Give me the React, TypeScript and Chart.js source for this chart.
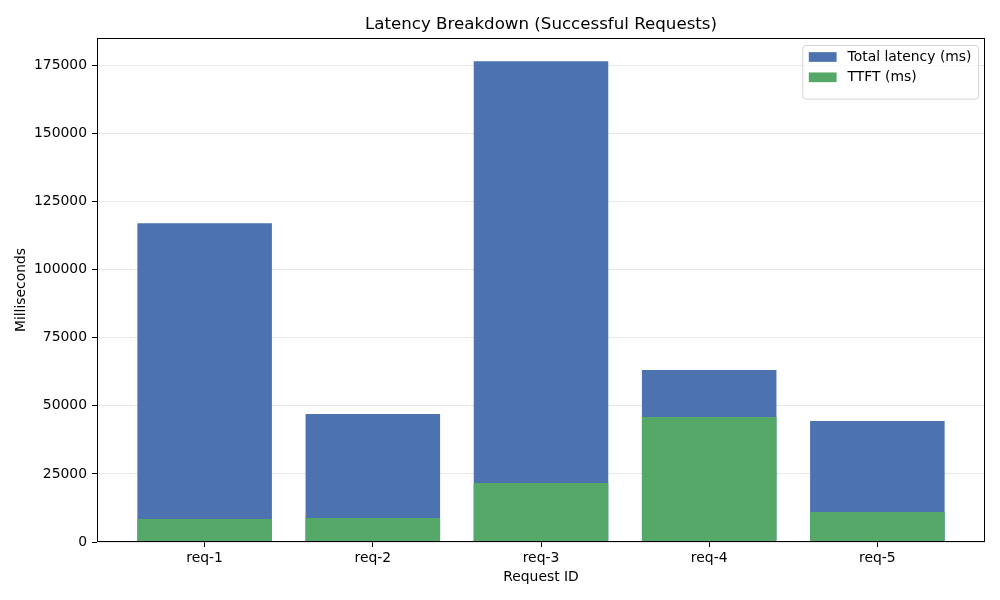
import React, { useEffect, useRef } from "react";
import { Chart, registerables } from "chart.js";

Chart.register(...registerables);

const CATEGORIES = ["req-1", "req-2", "req-3", "req-4", "req-5"];
const TOTAL_LATENCY = [117000, 47000, 176500, 63100, 44400];
const TTFT = [8450, 8800, 21650, 45850, 11000];
const Y_TICKS = [0, 25000, 50000, 75000, 100000, 125000, 150000, 175000];
const SERIES_LABELS = ["Total latency (ms)", "TTFT (ms)"];
const SERIES_COLORS = ["#4c72b0", "#55a868"];
const TITLE = "Latency Breakdown (Successful Requests)";
const X_TITLE = "Request ID";
const Y_TITLE = "Milliseconds";

const FONT = "'DejaVu Sans', 'Liberation Sans', sans-serif";

const framePlugin = {
  id: "frame",
  afterDraw(chart: any) {
    const { ctx, chartArea } = chart;
    const l = Math.round(chartArea.left) + 0.5;
    const t = Math.round(chartArea.top) + 0.5;
    const r = Math.round(chartArea.right) - 0.5;
    const b = Math.round(chartArea.bottom) - 0.5;
    ctx.save();
    ctx.strokeStyle = "#000";
    ctx.lineWidth = 1;
    ctx.strokeRect(l, t, r - l, b - t);
    ctx.restore();
  },
};

const legendPlugin = {
  id: "mplLegend",
  afterDraw(chart: any) {
    const { ctx, chartArea } = chart;
    const ds = chart.data.datasets;
    const fontSize = 13.9;
    ctx.save();
    ctx.font = `${fontSize}px ${FONT}`;
    let maxW = 0;
    ds.forEach((d: any) => {
      maxW = Math.max(maxW, ctx.measureText(d.label).width);
    });
    const patchW = 27.8;
    const patchH = 9.7;
    const rowH = 20.3;
    const boxW = 6 + patchW + 11 + maxW + 7;
    const boxH = 10 + rowH * ds.length + 3;
    const x0 = chartArea.right - 6.5 - boxW;
    const y0 = chartArea.top + 7.5;
    ctx.beginPath();
    const rr = 3;
    ctx.moveTo(x0 + rr, y0);
    ctx.arcTo(x0 + boxW, y0, x0 + boxW, y0 + boxH, rr);
    ctx.arcTo(x0 + boxW, y0 + boxH, x0, y0 + boxH, rr);
    ctx.arcTo(x0, y0 + boxH, x0, y0, rr);
    ctx.arcTo(x0, y0, x0 + boxW, y0, rr);
    ctx.closePath();
    ctx.fillStyle = "rgba(255,255,255,0.8)";
    ctx.fill();
    ctx.strokeStyle = "#d5d5d5";
    ctx.lineWidth = 1;
    ctx.stroke();
    ds.forEach((d: any, i: number) => {
      const cy = y0 + 11.5 + rowH * i;
      ctx.fillStyle = d.backgroundColor;
      ctx.fillRect(x0 + 6, cy - patchH / 2, patchW, patchH);
      ctx.fillStyle = "#000";
      ctx.textBaseline = "middle";
      ctx.textAlign = "left";
      ctx.fillText(d.label, x0 + 6 + patchW + 11, cy + 0.5);
    });
    ctx.restore();
  },
};

export default function App() {
  const ref = useRef<HTMLCanvasElement | null>(null);

  useEffect(() => {
    if (!ref.current) return;
    Chart.defaults.font.family = FONT;
    Chart.defaults.color = "#000";
    const chart = new Chart(ref.current, {
      type: "bar",
      data: {
        datasets: [
          {
            label: SERIES_LABELS[0],
            data: TOTAL_LATENCY.map((v, i) => ({ x: i, y: v })),
            backgroundColor: SERIES_COLORS[0],
            order: 1,
          },
          {
            label: SERIES_LABELS[1],
            data: TTFT.map((v, i) => ({ x: i, y: v })),
            backgroundColor: SERIES_COLORS[1],
            order: 0,
          },
        ],
      },
      options: {
        animation: false,
        responsive: false,
        devicePixelRatio: 1,
        datasets: {
          bar: {
            grouped: false,
            barPercentage: 0.8,
            categoryPercentage: 1,
            borderWidth: 0,
            inflateAmount: 0,
          },
        } as any,
        layout: { padding: { left: 0, right: 15, top: 0, bottom: 0 } },
        plugins: {
          legend: { display: false },
          tooltip: { enabled: false },
          title: {
            display: true,
            fullSize: false,
            text: TITLE,
            color: "#000",
            font: { size: 16.67, weight: "normal", family: FONT },
            padding: { top: 15, bottom: 3 },
          },
        },
        scales: {
          x: {
            type: "linear",
            min: -0.64,
            max: 4.64,
            offset: false,
            afterBuildTicks: (scale: any) => {
              scale.ticks = CATEGORIES.map((_, i) => ({ value: i }));
            },
            afterFit: (scale: any) => {
              scale.height = 58;
            },
            ticks: {
              autoSkip: false,
              maxRotation: 0,
              padding: 3,
              font: { size: 13.9 },
              color: "#000",
              callback: (v: any) => CATEGORIES[Math.round(Number(v))] ?? "",
            },
            grid: {
              display: true,
              offset: false,
              drawOnChartArea: false,
              drawTicks: true,
              tickLength: 5,
              tickColor: "#000",
            },
            border: { display: false },
            title: {
              display: true,
              text: X_TITLE,
              color: "#000",
              font: { size: 13.9 },
              padding: { top: 0, bottom: 14.2 },
            },
          },
          y: {
            type: "linear",
            min: 0,
            max: 185000,
            z: 1,
            afterBuildTicks: (scale: any) => {
              scale.ticks = Y_TICKS.map((v) => ({ value: v }));
            },
            afterFit: (scale: any) => {
              scale.width = 97;
            },
            ticks: {
              padding: 5,
              font: { size: 13.9 },
              color: "#000",
              callback: (v: any) => String(v),
            },
            grid: {
              color: "rgba(176,176,176,0.3)",
              lineWidth: 1,
              drawTicks: true,
              tickLength: 5,
              tickColor: "#000",
            },
            border: { display: false },
            title: {
              display: true,
              text: Y_TITLE,
              color: "#000",
              font: { size: 13.9 },
              padding: { top: 13.2, bottom: 0 },
            },
          },
        },
      } as any,
      plugins: [framePlugin, legendPlugin],
    });
    return () => chart.destroy();
  }, []);

  return (
    <div style={{ position: "absolute", left: 0, top: 0, width: 1000, height: 600, background: "#fff" }}>
      <canvas ref={ref} width={1000} height={600} />
    </div>
  );
}
